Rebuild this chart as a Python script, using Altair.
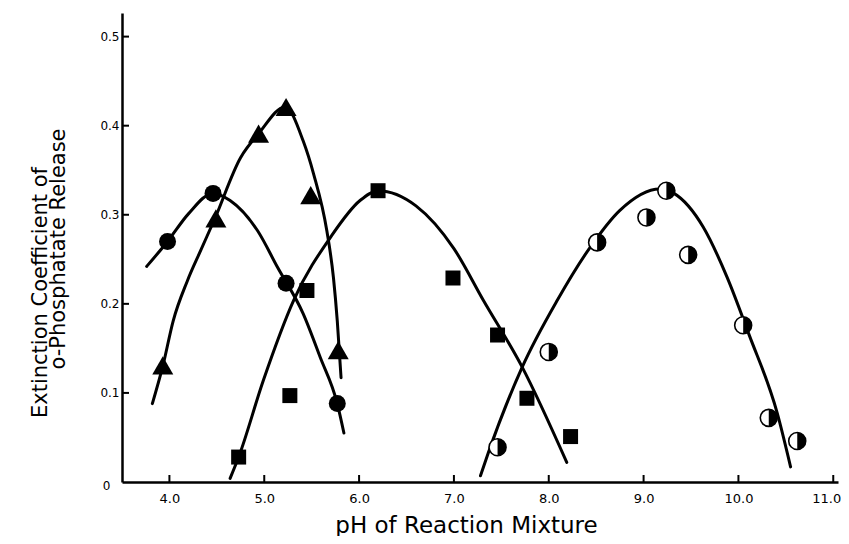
import altair as alt
import pandas as pd

FONT = "DejaVu Sans"

# ---- axis ticks / titles ----
x_ticks = [4.0, 5.0, 6.0, 7.0, 8.0, 9.0, 10.0, 11.0]
y_ticks = [0.0, 0.1, 0.2, 0.3, 0.4, 0.5]
x_title = "pH of Reaction Mixture"
y_title_1 = "Extinction Coefficient of"
y_title_2 = "o-Phosphatate Release"

# ---- measured points ----
circle_ph = [3.98, 4.46, 5.23, 5.77]
circle_val = [0.270, 0.324, 0.223, 0.088]

tri_ph = [3.93, 4.49, 4.94, 5.23, 5.49, 5.78]
tri_val = [0.131, 0.296, 0.391, 0.421, 0.322, 0.148]

sq_ph = [4.73, 5.27, 5.45, 6.20, 6.99, 7.46, 7.77, 8.23]
sq_val = [0.028, 0.097, 0.215, 0.327, 0.229, 0.165, 0.094, 0.051]

half_ph = [7.46, 8.00, 8.51, 9.03, 9.24, 9.47, 10.05, 10.32, 10.62]
half_val = [0.039, 0.146, 0.269, 0.297, 0.327, 0.255, 0.176, 0.072, 0.046]

# ---- hand-drawn curves (traced) ----
circle_curve_ph = [3.76, 3.98, 4.20, 4.46, 4.64, 4.93, 5.14, 5.41, 5.59, 5.77, 5.84]
circle_curve_val = [0.242, 0.270, 0.301, 0.324, 0.316, 0.282, 0.241, 0.189, 0.140, 0.088, 0.055]

tri_curve_ph = [3.82, 3.93, 4.04, 4.19, 4.33, 4.48, 4.75, 4.94, 5.22, 5.41, 5.52, 5.66, 5.73, 5.77, 5.81]
tri_curve_val = [0.088, 0.130, 0.181, 0.226, 0.260, 0.296, 0.364, 0.391, 0.421, 0.383, 0.346, 0.282, 0.229, 0.181, 0.117]

sq_curve_ph = [4.64, 4.73, 4.99, 5.31, 5.70, 6.01, 6.20, 6.60, 7.00, 7.31, 7.72, 8.19]
sq_curve_val = [0.004, 0.028, 0.114, 0.204, 0.275, 0.316, 0.327, 0.310, 0.262, 0.204, 0.129, 0.022]

half_curve_ph = [7.28, 7.36, 7.72, 8.09, 8.44, 8.75, 9.17, 9.32, 9.63, 9.88, 10.11, 10.41, 10.55]
half_curve_val = [0.007, 0.032, 0.129, 0.204, 0.264, 0.305, 0.329, 0.324, 0.286, 0.230, 0.166, 0.077, 0.017]


def frame(ph, val, name):
    return pd.DataFrame({"ph": ph, "val": val, "series": name})


curves = pd.concat([
    frame(circle_curve_ph, circle_curve_val, "circle"),
    frame(tri_curve_ph, tri_curve_val, "triangle"),
    frame(sq_curve_ph, sq_curve_val, "square"),
    frame(half_curve_ph, half_curve_val, "half"),
], ignore_index=True)

xscale = alt.Scale(domain=[3.5, 11.05], nice=False, zero=False)
yscale = alt.Scale(domain=[0, 0.5265], nice=False, zero=False)

xaxis = alt.Axis(
    values=x_ticks, format=".1f", grid=False, ticks=False,
    domainColor="black", domainWidth=2.5, labelFlush=False,
    labelFont=FONT, labelFontSize=13, labelColor="black", labelPadding=10,
    labelOffset=alt.condition("datum.value >= 11", alt.value(-7), alt.value(0)),
    title=x_title, titleFont=FONT, titleFontSize=23, titleFontWeight="normal",
    titleColor="black", titleX=344, titleY=50, titleBaseline="alphabetic",
    titleAlign="center",
)
yaxis = alt.Axis(
    values=y_ticks, grid=False, ticks=False, labelFlush=False,
    labelExpr="datum.value == 0 ? '0' : format(datum.value, '.1f')",
    labelPadding=alt.condition("datum.value == 0", alt.value(12), alt.value(3)),
    labelOffset=alt.condition("datum.value == 0", alt.value(3), alt.value(0)),
    domainColor="black", domainWidth=2.5,
    labelFont=FONT, labelFontSize=12, labelColor="black",
    title=y_title_1, titleFont=FONT, titleFontSize=21, titleFontWeight="normal",
    titleColor="black", titleAngle=270, titleX=-76, titleY=279,
    titleAlign="center", titleBaseline="alphabetic",
)


def xenc():
    return alt.X("ph:Q", scale=xscale, axis=xaxis)


def yenc():
    return alt.Y("val:Q", scale=yscale, axis=yaxis)


lines = alt.Chart(curves).mark_line(
    color="black", strokeWidth=3, interpolate="monotone", strokeCap="round"
).encode(x=xenc(), y=yenc(), detail="series:N")

xtick_layer = alt.Chart(pd.DataFrame({"ph": x_ticks})).mark_rule(
    color="black", strokeWidth=2
).encode(x=xenc(), y=alt.value(469), y2=alt.value(462))

ytick_layer = alt.Chart(pd.DataFrame({"val": y_ticks[1:]})).mark_rule(
    color="black", strokeWidth=2
).encode(y=yenc(), x=alt.value(0), x2=alt.value(7))

circles = alt.Chart(frame(circle_ph, circle_val, "circle")).mark_point(
    shape="circle", filled=True, color="black", size=289, opacity=1
).encode(x=xenc(), y=yenc())

tris = alt.Chart(frame(tri_ph, tri_val, "triangle")).mark_point(
    shape="triangle-up", filled=True, color="black", size=441, opacity=1
).encode(x=xenc(), y=yenc())

squares = alt.Chart(frame(sq_ph, sq_val, "square")).mark_point(
    shape="square", filled=True, color="black", size=225, opacity=1
).encode(x=xenc(), y=yenc())

half_df = frame(half_ph, half_val, "half")
half_white = alt.Chart(half_df).mark_point(
    shape="circle", filled=True, fill="white", stroke="black",
    strokeWidth=1.6, size=289, opacity=1
).encode(x=xenc(), y=yenc())
half_black = alt.Chart(half_df).mark_point(
    shape="M0,-1A1,1,0,0,1,0,1Z", filled=True, color="black", size=289, opacity=1
).encode(x=xenc(), y=yenc())

title2 = alt.Chart(pd.DataFrame({"t": [y_title_2]})).mark_text(
    angle=270, align="center", baseline="alphabetic", font=FONT,
    fontSize=21, color="black"
).encode(x=alt.value(-57), y=alt.value(236), text="t:N")

chart = alt.layer(
    lines, xtick_layer, ytick_layer, circles, tris, squares,
    half_white, half_black, title2
).properties(
    width=716, height=469,
    autosize=alt.AutoSizeParams(type="none"),
    padding={"left": 114, "top": 5, "right": 3, "bottom": 54},
    background="white",
).configure_view(stroke=None)

chart.save("out.html", embed_options={"renderer": "svg", "actions": False})
